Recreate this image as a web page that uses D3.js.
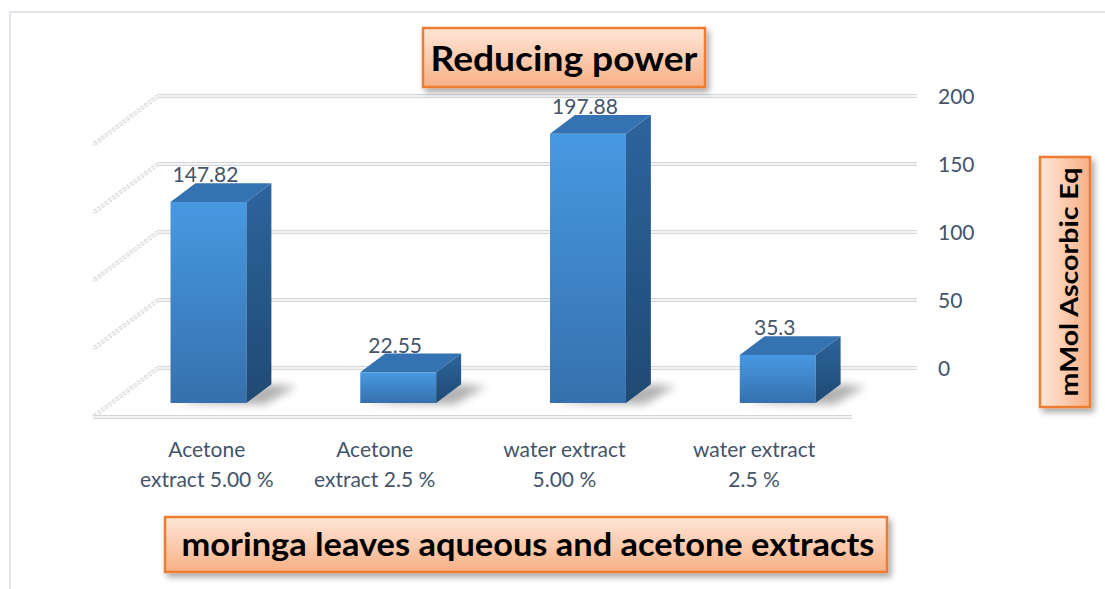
<!DOCTYPE html>
<html lang="en">
<head>
  <meta charset="UTF-8">
  <title>Reducing power</title>
  <script src="https://d3js.org/d3.v7.min.js"></script>
  <style>
    body { margin: 0; background: #fff; }
    text { font-family: Lato, "Open Sans", sans-serif; }
  </style>
</head>
<body>
  <div id="chart"></div>

  <script>
    // Data
    const categories = ["Acetone extract 5.00 %", "Acetone extract 2.5 %", "water extract 5.00 %", "water extract 2.5 %"];
    const categoryLines = [["Acetone", "extract 5.00 %"], ["Acetone", "extract 2.5 %"], ["water extract", "5.00 %"], ["water extract", "2.5 %"]];
    const values = [147.82, 22.55, 197.88, 35.3];
    const yTicks = [0, 50, 100, 150, 200];

    const W = 1105, H = 589;

    // back wall and depth of the 3d box
    const wallLeft = 158, wallRight = 917;
    const depthX = -65, depthY = 49;
    const zBack = 0.33, zFront = 0.714;   // bar position in depth
    const proj = (x, y, z) => [x + depthX * z, y + depthY * z];

    const svg = d3.select("#chart").append("svg")
      .attr("width", W)
      .attr("height", H);

    const defs = svg.append("defs");

    function grad(id, c1, c2, vertical) {
      const g = defs.append("linearGradient").attr("id", id)
        .attr("x1", 0).attr("y1", 0)
        .attr("x2", vertical ? 0 : 1).attr("y2", vertical ? 1 : 0);
      g.append("stop").attr("offset", "0%").attr("stop-color", c1);
      g.append("stop").attr("offset", "100%").attr("stop-color", c2);
    }
    grad("front", "#4799e2", "#3670ad", true);
    grad("side", "#2d649d", "#1f4a73", true);
    grad("boxV", "#fee6d8", "#f8b085", true);
    grad("boxH", "#fee6d8", "#f8b085", false);

    defs.append("filter").attr("id", "blur").attr("x", "-50%").attr("y", "-50%").attr("width", "200%").attr("height", "200%")
      .append("feGaussianBlur").attr("stdDeviation", 4);
    const sh = defs.append("filter").attr("id", "shadow").attr("x", "-20%").attr("y", "-20%").attr("width", "140%").attr("height", "160%");
    sh.append("feDropShadow").attr("dx", 3).attr("dy", 4).attr("stdDeviation", 3)
      .attr("flood-color", "#000").attr("flood-opacity", 0.35);

    // outer chart border (only top and left visible)
    svg.append("path")
      .attr("d", "M10," + H + " V12 H" + W)
      .attr("fill", "none")
      .attr("stroke", "#e2e6ea")
      .attr("stroke-width", 2);

    const y = d3.scaleLinear().domain([0, 200]).range([368, 96]);

    const x = d3.scaleBand()
      .domain(categories)
      .range([160, 919])
      .paddingInner(0.6)
      .paddingOuter(0.3);
    const bw = x.bandwidth();

    // gridlines on back wall + left wall
    const grid = svg.append("g");
    function gridLine(pts, dash) {
      const line = d3.line();
      grid.append("path").attr("d", line(pts)).attr("fill", "none")
        .attr("stroke", "#d3d5d8").attr("stroke-width", 4)
        .attr("stroke-dasharray", dash || null);
      grid.append("path").attr("d", line(pts)).attr("fill", "none")
        .attr("stroke", "#f4f4f4").attr("stroke-width", 2);
    }
    yTicks.forEach(t => {
      gridLine([[wallLeft, y(t)], [wallRight, y(t)]]);
      gridLine([[wallLeft, y(t)], proj(wallLeft, y(t), 1)], "3,1.5");
    });
    // front edge of floor
    gridLine([proj(wallLeft, y(0), 1), proj(wallRight, y(0), 1)]);

    // tick labels
    svg.append("g").selectAll("text")
      .data(yTicks)
      .join("text")
      .attr("x", 938)
      .attr("y", d => y(d))
      .attr("dy", "0.36em")
      .attr("font-size", 21)
      .attr("fill", "#44546a")
      .text(d => d);

    // bars
    const bars = svg.append("g").selectAll("g")
      .data(categories.map((c, i) => ({ c, v: values[i] })))
      .join("g");

    // soft floor shadows
    bars.append("path")
      .attr("d", d => {
        const x0 = x(d.c), x1 = x(d.c) + bw, y0 = y(0);
        return d3.line()([
          proj(x0 + 5, y0, zFront), proj(x1 + 20, y0, zFront + 0.03),
          proj(x1 + 28, y0, zBack + 0.05), proj(x1, y0, zBack)
        ]);
      })
      .attr("fill", "#000")
      .attr("opacity", 0.3)
      .attr("filter", "url(#blur)");

    bars.each(function (d) {
      const g = d3.select(this);
      const x0 = x(d.c), x1 = x(d.c) + bw;
      const yt = y(d.v), yb = y(0);
      const ft = proj(x0, yt, zFront), fb = proj(x1, yb, zFront);
      // front face
      g.append("rect")
        .attr("x", ft[0]).attr("y", ft[1])
        .attr("width", fb[0] - ft[0]).attr("height", fb[1] - ft[1])
        .attr("fill", "url(#front)");
      // side face
      g.append("path")
        .attr("d", d3.line()([proj(x1, yt, zFront), proj(x1, yt, zBack), proj(x1, yb, zBack), proj(x1, yb, zFront)]))
        .attr("fill", "url(#side)");
      // top face
      g.append("path")
        .attr("d", d3.line()([proj(x0, yt, zFront), proj(x1, yt, zFront), proj(x1, yt, zBack), proj(x0, yt, zBack)]))
        .attr("fill", "#3572b2");
      // value label
      const c = proj((x0 + x1) / 2, yt, zBack);
      g.append("text")
        .attr("x", ft[0] + bw / 2 - 3)
        .attr("y", c[1] - 1)
        .attr("text-anchor", "middle")
        .attr("font-size", 21)
        .attr("fill", "#44546a")
        .text(d.v);
    });

    // category labels, two lines each
    const catG = svg.append("g");
    categories.forEach((c, i) => {
      const t = catG.append("text")
        .attr("text-anchor", "middle")
        .attr("font-size", 21)
        .attr("fill", "#44546a")
        .attr("y", 457);
      const spans = categoryLines[i].map((s, k) =>
        t.append("tspan").attr("dy", k === 0 ? 0 : 30).text(s));
      const wMax = d3.max(spans, s => s.node().getComputedTextLength());
      let cx = proj(x(c) + bw / 2, 0, 1)[0] - 5;
      cx = Math.max(cx, 140 + wMax / 2);
      spans.forEach(s => s.attr("x", cx));
    });

    // boxed titles
    function box(x0, y0, w, h, fill) {
      svg.append("rect")
        .attr("x", x0).attr("y", y0).attr("width", w).attr("height", h)
        .attr("fill", fill)
        .attr("stroke", "#ed7d31")
        .attr("stroke-width", 2.5)
        .attr("filter", "url(#shadow)");
    }

    box(423, 28, 282, 59, "url(#boxV)");
    svg.append("text")
      .attr("x", 564).attr("y", 71)
      .attr("text-anchor", "middle")
      .attr("font-size", 35).attr("font-weight", "bold")
      .attr("fill", "#000")
      .attr("textLength", 267).attr("lengthAdjust", "spacingAndGlyphs")
      .text("Reducing power");

    box(1040, 157, 50, 250, "url(#boxH)");
    svg.append("text")
      .attr("transform", "translate(1078,282) rotate(-90)")
      .attr("text-anchor", "middle")
      .attr("font-size", 25).attr("font-weight", "bold")
      .attr("fill", "#000")
      .attr("textLength", 229).attr("lengthAdjust", "spacingAndGlyphs")
      .text("mMol Ascorbic Eq");

    box(165, 517, 722, 55, "url(#boxV)");
    svg.append("text")
      .attr("x", 528).attr("y", 556)
      .attr("text-anchor", "middle")
      .attr("font-size", 32).attr("font-weight", "bold")
      .attr("fill", "#000")
      .attr("textLength", 693).attr("lengthAdjust", "spacingAndGlyphs")
      .text("moringa leaves aqueous and acetone extracts");
  </script>
</body>
</html>
